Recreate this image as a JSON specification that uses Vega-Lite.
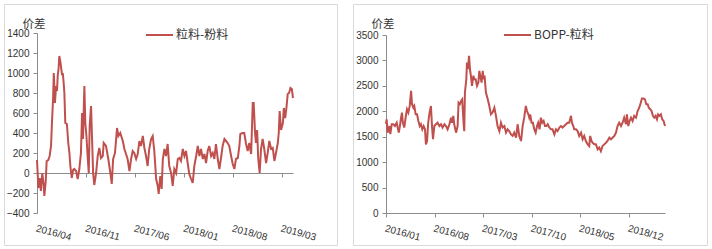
{
"$schema": "https://vega.github.io/schema/vega-lite/v6.json",
"padding": {"left": 3, "top": 3, "right": 0, "bottom": 0},
"background": "white",
"spacing": 14,
"datasets": {
"a": [
{"date":"2016-04-01","value":130},{"date":"2016-04-07","value":-150},{"date":"2016-04-13","value":-50},{"date":"2016-04-18","value":-180},{"date":"2016-04-24","value":0},{"date":"2016-04-30","value":-120},{"date":"2016-05-03","value":-230},{"date":"2016-05-09","value":-80},{"date":"2016-05-13","value":120},{"date":"2016-05-20","value":130},{"date":"2016-05-26","value":170},{"date":"2016-06-01","value":270},{"date":"2016-06-05","value":500},{"date":"2016-06-10","value":750},{"date":"2016-06-13","value":1000},{"date":"2016-06-18","value":700},{"date":"2016-06-23","value":870},{"date":"2016-06-27","value":820},{"date":"2016-06-30","value":970},{"date":"2016-07-04","value":1050},{"date":"2016-07-07","value":1170},{"date":"2016-07-11","value":1120},{"date":"2016-07-14","value":1070},{"date":"2016-07-19","value":980},{"date":"2016-07-22","value":1000},{"date":"2016-07-26","value":900},{"date":"2016-07-29","value":800},{"date":"2016-08-02","value":500},{"date":"2016-08-09","value":490},{"date":"2016-08-15","value":300},{"date":"2016-08-20","value":200},{"date":"2016-08-24","value":70},{"date":"2016-08-30","value":-50},{"date":"2016-09-05","value":30},{"date":"2016-09-10","value":40},{"date":"2016-09-18","value":20},{"date":"2016-09-25","value":-60},{"date":"2016-10-02","value":40},{"date":"2016-10-09","value":200},{"date":"2016-10-14","value":600},{"date":"2016-10-18","value":340},{"date":"2016-10-22","value":700},{"date":"2016-10-24","value":870},{"date":"2016-10-28","value":500},{"date":"2016-11-02","value":370},{"date":"2016-11-07","value":170},{"date":"2016-11-12","value":0},{"date":"2016-11-16","value":470},{"date":"2016-11-22","value":670},{"date":"2016-11-26","value":370},{"date":"2016-12-01","value":0},{"date":"2016-12-06","value":-120},{"date":"2016-12-14","value":0},{"date":"2016-12-21","value":170},{"date":"2016-12-28","value":250},{"date":"2017-01-04","value":150},{"date":"2017-01-12","value":170},{"date":"2017-01-16","value":300},{"date":"2017-01-26","value":270},{"date":"2017-02-05","value":140},{"date":"2017-02-14","value":0},{"date":"2017-02-20","value":-110},{"date":"2017-02-26","value":140},{"date":"2017-03-06","value":200},{"date":"2017-03-15","value":450},{"date":"2017-03-21","value":370},{"date":"2017-03-29","value":400},{"date":"2017-04-09","value":320},{"date":"2017-04-16","value":240},{"date":"2017-04-23","value":190},{"date":"2017-04-30","value":140},{"date":"2017-05-08","value":20},{"date":"2017-05-15","value":140},{"date":"2017-05-22","value":220},{"date":"2017-05-29","value":200},{"date":"2017-06-06","value":140},{"date":"2017-06-13","value":190},{"date":"2017-06-20","value":320},{"date":"2017-06-27","value":270},{"date":"2017-07-05","value":370},{"date":"2017-07-12","value":250},{"date":"2017-07-19","value":170},{"date":"2017-07-26","value":70},{"date":"2017-08-02","value":240},{"date":"2017-08-10","value":340},{"date":"2017-08-17","value":370},{"date":"2017-08-24","value":220},{"date":"2017-09-01","value":-60},{"date":"2017-09-08","value":-130},{"date":"2017-09-12","value":-210},{"date":"2017-09-19","value":-30},{"date":"2017-09-25","value":-160},{"date":"2017-09-30","value":140},{"date":"2017-10-07","value":240},{"date":"2017-10-14","value":170},{"date":"2017-10-21","value":290},{"date":"2017-10-28","value":70},{"date":"2017-11-05","value":0},{"date":"2017-11-12","value":-130},{"date":"2017-11-19","value":40},{"date":"2017-11-27","value":0},{"date":"2017-12-04","value":140},{"date":"2017-12-11","value":150},{"date":"2017-12-18","value":120},{"date":"2017-12-26","value":240},{"date":"2018-01-02","value":170},{"date":"2018-01-09","value":220},{"date":"2018-01-16","value":100},{"date":"2018-01-23","value":-10},{"date":"2018-01-31","value":-60},{"date":"2018-02-07","value":-100},{"date":"2018-02-14","value":70},{"date":"2018-02-22","value":170},{"date":"2018-03-01","value":270},{"date":"2018-03-08","value":170},{"date":"2018-03-15","value":240},{"date":"2018-03-23","value":140},{"date":"2018-03-30","value":190},{"date":"2018-04-06","value":100},{"date":"2018-04-13","value":220},{"date":"2018-04-20","value":270},{"date":"2018-04-28","value":170},{"date":"2018-05-05","value":200},{"date":"2018-05-12","value":140},{"date":"2018-05-19","value":290},{"date":"2018-05-27","value":140},{"date":"2018-06-03","value":40},{"date":"2018-06-10","value":150},{"date":"2018-06-17","value":270},{"date":"2018-06-25","value":340},{"date":"2018-07-02","value":320},{"date":"2018-07-09","value":300},{"date":"2018-07-16","value":270},{"date":"2018-07-24","value":170},{"date":"2018-07-31","value":90},{"date":"2018-08-07","value":40},{"date":"2018-08-14","value":140},{"date":"2018-08-22","value":150},{"date":"2018-08-29","value":270},{"date":"2018-09-02","value":390},{"date":"2018-09-12","value":400},{"date":"2018-09-19","value":400},{"date":"2018-09-27","value":290},{"date":"2018-10-04","value":220},{"date":"2018-10-11","value":300},{"date":"2018-10-19","value":190},{"date":"2018-10-26","value":700},{"date":"2018-10-30","value":700},{"date":"2018-11-05","value":400},{"date":"2018-11-09","value":300},{"date":"2018-11-14","value":430},{"date":"2018-11-19","value":140},{"date":"2018-11-25","value":0},{"date":"2018-12-01","value":240},{"date":"2018-12-08","value":340},{"date":"2018-12-15","value":240},{"date":"2018-12-23","value":100},{"date":"2018-12-30","value":200},{"date":"2019-01-06","value":320},{"date":"2019-01-14","value":240},{"date":"2019-01-21","value":250},{"date":"2019-01-28","value":120},{"date":"2019-02-04","value":200},{"date":"2019-02-12","value":300},{"date":"2019-02-16","value":400},{"date":"2019-02-20","value":620},{"date":"2019-02-26","value":430},{"date":"2019-03-06","value":500},{"date":"2019-03-10","value":650},{"date":"2019-03-16","value":550},{"date":"2019-03-21","value":640},{"date":"2019-03-27","value":790},{"date":"2019-04-02","value":800},{"date":"2019-04-08","value":850},{"date":"2019-04-14","value":840},{"date":"2019-04-19","value":750}
],
"b": [
{"date":"2016-01-01","value":1750},{"date":"2016-01-04","value":1840},{"date":"2016-01-08","value":1580},{"date":"2016-01-16","value":1710},{"date":"2016-01-20","value":1550},{"date":"2016-01-26","value":1745},{"date":"2016-02-02","value":1745},{"date":"2016-02-09","value":1710},{"date":"2016-02-17","value":1775},{"date":"2016-02-21","value":1680},{"date":"2016-02-26","value":1580},{"date":"2016-03-02","value":1710},{"date":"2016-03-07","value":1875},{"date":"2016-03-11","value":1975},{"date":"2016-03-15","value":1775},{"date":"2016-03-21","value":1680},{"date":"2016-03-27","value":1875},{"date":"2016-04-02","value":2040},{"date":"2016-04-08","value":1975},{"date":"2016-04-14","value":2105},{"date":"2016-04-20","value":2400},{"date":"2016-04-24","value":2140},{"date":"2016-04-30","value":2070},{"date":"2016-05-04","value":2105},{"date":"2016-05-10","value":1940},{"date":"2016-05-16","value":1940},{"date":"2016-05-22","value":1810},{"date":"2016-05-28","value":1710},{"date":"2016-06-02","value":1745},{"date":"2016-06-08","value":1645},{"date":"2016-06-14","value":1710},{"date":"2016-06-20","value":1645},{"date":"2016-06-24","value":1350},{"date":"2016-06-29","value":1415},{"date":"2016-07-04","value":1775},{"date":"2016-07-10","value":1975},{"date":"2016-07-16","value":2105},{"date":"2016-07-21","value":1680},{"date":"2016-07-25","value":1450},{"date":"2016-07-31","value":1710},{"date":"2016-08-07","value":1745},{"date":"2016-08-14","value":1775},{"date":"2016-08-22","value":1710},{"date":"2016-08-29","value":1745},{"date":"2016-09-05","value":1680},{"date":"2016-09-13","value":1745},{"date":"2016-09-20","value":1710},{"date":"2016-09-27","value":1645},{"date":"2016-10-05","value":1745},{"date":"2016-10-12","value":1875},{"date":"2016-10-16","value":1775},{"date":"2016-10-22","value":1910},{"date":"2016-10-26","value":1745},{"date":"2016-11-03","value":1580},{"date":"2016-11-10","value":1710},{"date":"2016-11-14","value":2170},{"date":"2016-11-20","value":2140},{"date":"2016-11-25","value":2205},{"date":"2016-11-30","value":2235},{"date":"2016-12-06","value":1775},{"date":"2016-12-09","value":1610},{"date":"2016-12-12","value":2370},{"date":"2016-12-18","value":2630},{"date":"2016-12-21","value":2960},{"date":"2016-12-25","value":2830},{"date":"2016-12-30","value":3090},{"date":"2017-01-03","value":2830},{"date":"2017-01-07","value":2700},{"date":"2017-01-12","value":2500},{"date":"2017-01-18","value":2700},{"date":"2017-01-22","value":2630},{"date":"2017-01-28","value":2630},{"date":"2017-02-03","value":2500},{"date":"2017-02-09","value":2565},{"date":"2017-02-13","value":2795},{"date":"2017-02-17","value":2700},{"date":"2017-02-23","value":2565},{"date":"2017-02-28","value":2795},{"date":"2017-03-04","value":2630},{"date":"2017-03-08","value":2700},{"date":"2017-03-14","value":2370},{"date":"2017-03-22","value":2235},{"date":"2017-03-29","value":2105},{"date":"2017-04-05","value":1940},{"date":"2017-04-12","value":1975},{"date":"2017-04-20","value":2070},{"date":"2017-04-27","value":1910},{"date":"2017-05-04","value":1710},{"date":"2017-05-12","value":1610},{"date":"2017-05-19","value":1775},{"date":"2017-05-26","value":1680},{"date":"2017-06-03","value":1710},{"date":"2017-06-10","value":1580},{"date":"2017-06-17","value":1645},{"date":"2017-06-24","value":1610},{"date":"2017-07-02","value":1545},{"date":"2017-07-09","value":1515},{"date":"2017-07-16","value":1580},{"date":"2017-07-24","value":1480},{"date":"2017-07-31","value":1745},{"date":"2017-08-07","value":1515},{"date":"2017-08-15","value":1415},{"date":"2017-08-22","value":1710},{"date":"2017-08-29","value":1880},{"date":"2017-09-05","value":2105},{"date":"2017-09-10","value":2005},{"date":"2017-09-16","value":1940},{"date":"2017-09-20","value":1875},{"date":"2017-09-24","value":1940},{"date":"2017-09-30","value":1775},{"date":"2017-10-06","value":1775},{"date":"2017-10-12","value":1645},{"date":"2017-10-18","value":1580},{"date":"2017-10-24","value":1710},{"date":"2017-10-29","value":1775},{"date":"2017-11-04","value":1645},{"date":"2017-11-10","value":1875},{"date":"2017-11-16","value":1775},{"date":"2017-11-22","value":1810},{"date":"2017-11-28","value":1710},{"date":"2017-12-04","value":1710},{"date":"2017-12-10","value":1745},{"date":"2017-12-17","value":1680},{"date":"2017-12-24","value":1645},{"date":"2017-12-31","value":1645},{"date":"2018-01-08","value":1545},{"date":"2018-01-15","value":1645},{"date":"2018-01-22","value":1610},{"date":"2018-01-30","value":1680},{"date":"2018-02-06","value":1710},{"date":"2018-02-13","value":1680},{"date":"2018-02-20","value":1710},{"date":"2018-02-28","value":1745},{"date":"2018-03-07","value":1775},{"date":"2018-03-14","value":1775},{"date":"2018-03-22","value":1910},{"date":"2018-03-26","value":1775},{"date":"2018-04-01","value":1710},{"date":"2018-04-05","value":1645},{"date":"2018-04-13","value":1645},{"date":"2018-04-20","value":1610},{"date":"2018-04-27","value":1515},{"date":"2018-05-05","value":1580},{"date":"2018-05-12","value":1450},{"date":"2018-05-19","value":1515},{"date":"2018-05-26","value":1415},{"date":"2018-06-03","value":1350},{"date":"2018-06-10","value":1315},{"date":"2018-06-14","value":1515},{"date":"2018-06-20","value":1415},{"date":"2018-06-25","value":1380},{"date":"2018-07-02","value":1350},{"date":"2018-07-09","value":1350},{"date":"2018-07-17","value":1250},{"date":"2018-07-24","value":1285},{"date":"2018-07-31","value":1215},{"date":"2018-08-07","value":1315},{"date":"2018-08-15","value":1350},{"date":"2018-08-22","value":1380},{"date":"2018-08-29","value":1415},{"date":"2018-09-06","value":1480},{"date":"2018-09-13","value":1450},{"date":"2018-09-20","value":1480},{"date":"2018-09-28","value":1515},{"date":"2018-10-05","value":1580},{"date":"2018-10-12","value":1710},{"date":"2018-10-19","value":1775},{"date":"2018-10-27","value":1710},{"date":"2018-11-03","value":1775},{"date":"2018-11-10","value":1875},{"date":"2018-11-18","value":1745},{"date":"2018-11-22","value":1940},{"date":"2018-11-28","value":1710},{"date":"2018-12-04","value":1810},{"date":"2018-12-10","value":1875},{"date":"2018-12-17","value":1810},{"date":"2018-12-24","value":1910},{"date":"2019-01-01","value":1875},{"date":"2019-01-08","value":2005},{"date":"2019-01-15","value":2070},{"date":"2019-01-22","value":2170},{"date":"2019-01-27","value":2250},{"date":"2019-02-03","value":2250},{"date":"2019-02-09","value":2235},{"date":"2019-02-15","value":2140},{"date":"2019-02-21","value":2140},{"date":"2019-02-26","value":2070},{"date":"2019-03-04","value":2040},{"date":"2019-03-10","value":2005},{"date":"2019-03-16","value":1910},{"date":"2019-03-22","value":1875},{"date":"2019-03-28","value":1910},{"date":"2019-04-03","value":1840},{"date":"2019-04-08","value":1940},{"date":"2019-04-14","value":1910},{"date":"2019-04-20","value":1940},{"date":"2019-04-26","value":1840},{"date":"2019-05-02","value":1810},{"date":"2019-05-08","value":1710}
]
},
"config": {
"view": {"stroke": "#d9d9d9", "strokeWidth": 1},
"axis": {"labelFont": "Liberation Sans", "labelFontSize": 10, "labelColor": "#333333", "domainColor": "#8c8c8c", "tickColor": "#8c8c8c", "grid": false, "titleFont": "Noto Sans CJK SC", "titleFontSize": 11.5, "titleFontWeight": "normal", "titleColor": "#333333"},
"legend": {"orient": "none", "padding": 0, "symbolType": "stroke", "symbolSize": 729, "symbolStrokeWidth": 2, "labelFont": "Noto Sans CJK SC", "labelFontSize": 12, "labelColor": "#333333", "labelOffset": 2},
"line": {"strokeWidth": 2}
},
"resolve": {"scale": {"color": "independent"}, "legend": {"color": "independent"}},
"hconcat": [
{
"width": 333, "height": 241,
"data": {"name": "a"},
"layer": [
{"mark": {"type": "line", "opacity": 0},
"encoding": {
"x": {"field": "date", "type": "temporal",
"scale": {"type": "utc", "domain": [{"year": 2016, "month": 4, "date": 1, "utc": true}, {"year": 2019, "month": 4, "date": 19, "utc": true}], "range": [33, 289]},
"axis": {"orient": "bottom", "offset": -72, "labels": false, "domain": true, "ticks": true, "tickSize": 4, "title": null,
"values": [{"year": 2016, "month": 4, "date": 1, "utc": true}, {"year": 2016, "month": 11, "date": 1, "utc": true}, {"year": 2017, "month": 6, "date": 1, "utc": true}, {"year": 2018, "month": 1, "date": 1, "utc": true}, {"year": 2018, "month": 8, "date": 1, "utc": true}, {"year": 2019, "month": 3, "date": 1, "utc": true}]}},
"y": {"field": "value", "type": "quantitative", "scale": {"domain": [-400, 1400], "range": [209, 29], "nice": false, "zero": false}, "axis": null}
}},
{"mark": {"type": "line", "strokeWidth": 2},
"encoding": {
"x": {"field": "date", "type": "temporal",
"axis": {"orient": "bottom", "offset": -22, "domain": false, "ticks": false, "tickSize": 0, "labelPadding": 0, "labelAngle": 15, "labelAlign": "left", "labelBaseline": "top", "labelFlush": false, "labelOverlap": false, "format": "%Y/%m", "title": null,
"values": [{"year": 2016, "month": 4, "date": 1, "utc": true}, {"year": 2016, "month": 11, "date": 1, "utc": true}, {"year": 2017, "month": 6, "date": 1, "utc": true}, {"year": 2018, "month": 1, "date": 1, "utc": true}, {"year": 2018, "month": 8, "date": 1, "utc": true}, {"year": 2019, "month": 3, "date": 1, "utc": true}]}},
"y": {"field": "value", "type": "quantitative",
"axis": {"offset": -33, "format": "d", "values": [-400, -200, 0, 200, 400, 600, 800, 1000, 1200, 1400], "tickSize": 4, "labelPadding": 4, "labelFlush": false, "title": "价差", "titleAngle": 0, "titleX": -15, "titleY": 20, "titleAlign": "left", "titleBaseline": "middle"}},
"color": {"datum": "粒料-粉料", "scale": {"range": ["#C0504D"]}, "legend": {"title": null, "legendX": 141, "legendY": 16.5}}
}}
],
"resolve": {"axis": {"x": "independent", "y": "independent"}}
},
{
"width": 354, "height": 241,
"data": {"name": "b"},
"layer": [
{"mark": {"type": "line", "opacity": 0},
"encoding": {
"x": {"field": "date", "type": "temporal",
"scale": {"type": "utc", "domain": [{"year": 2016, "month": 1, "date": 1, "utc": true}, {"year": 2019, "month": 5, "date": 8, "utc": true}], "range": [33, 312]},
"axis": {"orient": "bottom", "offset": -32, "labels": false, "domain": true, "ticks": true, "tickSize": 4, "title": null,
"values": [{"year": 2016, "month": 1, "date": 1, "utc": true}, {"year": 2016, "month": 8, "date": 1, "utc": true}, {"year": 2017, "month": 3, "date": 1, "utc": true}, {"year": 2017, "month": 10, "date": 1, "utc": true}, {"year": 2018, "month": 5, "date": 1, "utc": true}, {"year": 2018, "month": 12, "date": 1, "utc": true}]}},
"y": {"field": "value", "type": "quantitative", "scale": {"domain": [0, 3500], "range": [209, 31], "nice": false, "zero": false}, "axis": null}
}},
{"mark": {"type": "line", "strokeWidth": 2},
"encoding": {
"x": {"field": "date", "type": "temporal",
"axis": {"orient": "bottom", "offset": -22, "domain": false, "ticks": false, "tickSize": 0, "labelPadding": 0, "labelAngle": 15, "labelAlign": "left", "labelBaseline": "top", "labelFlush": false, "labelOverlap": false, "format": "%Y/%m", "title": null,
"values": [{"year": 2016, "month": 1, "date": 1, "utc": true}, {"year": 2016, "month": 8, "date": 1, "utc": true}, {"year": 2017, "month": 3, "date": 1, "utc": true}, {"year": 2017, "month": 10, "date": 1, "utc": true}, {"year": 2018, "month": 5, "date": 1, "utc": true}, {"year": 2018, "month": 12, "date": 1, "utc": true}]}},
"y": {"field": "value", "type": "quantitative",
"axis": {"offset": -33, "format": "d", "values": [0, 500, 1000, 1500, 2000, 2500, 3000, 3500], "tickSize": 4, "labelPadding": 4, "labelFlush": false, "title": "价差", "titleAngle": 0, "titleX": -15, "titleY": 20, "titleAlign": "left", "titleBaseline": "middle"}},
"color": {"datum": "BOPP-粒料", "scale": {"range": ["#C0504D"]}, "legend": {"title": null, "legendX": 150, "legendY": 16.5}}
}}
],
"resolve": {"axis": {"x": "independent", "y": "independent"}}
}
]
}
